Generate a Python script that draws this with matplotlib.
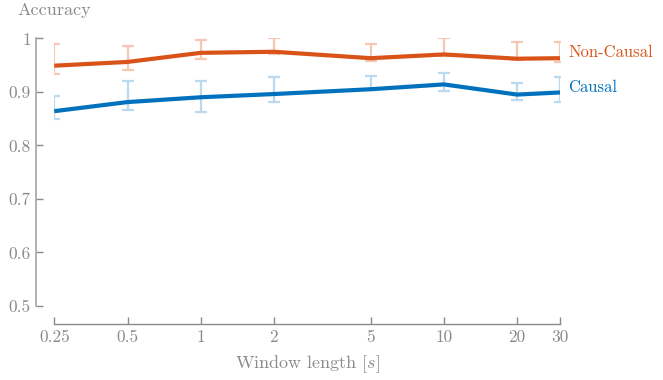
import matplotlib
matplotlib.use("Agg")
import matplotlib.pyplot as plt

# window lengths in seconds and mean accuracy with error-bar extents
WINDOWS = [0.25, 0.5, 1, 2, 5, 10, 20, 30]
TICK_LABELS = ["0.25", "0.5", "1", "2", "5", "10", "20", "30"]

NONCAUSAL = [0.949, 0.956, 0.973, 0.975, 0.963, 0.970, 0.962, 0.963]
NONCAUSAL_HI = [0.989, 0.985, 0.997, 1.001, 0.990, 1.001, 0.993, 0.993]
NONCAUSAL_LO = [0.933, 0.940, 0.961, 0.971, 0.958, 0.968, 0.959, 0.956]

CAUSAL = [0.864, 0.881, 0.890, 0.896, 0.905, 0.914, 0.895, 0.899]
CAUSAL_HI = [0.893, 0.921, 0.920, 0.927, 0.929, 0.935, 0.916, 0.927]
CAUSAL_LO = [0.850, 0.866, 0.863, 0.881, 0.903, 0.902, 0.884, 0.881]

Y_TICKS = [0.5, 0.6, 0.7, 0.8, 0.9, 1.0]
Y_LABELS = ["0.5", "0.6", "0.7", "0.8", "0.9", "1"]

plt.rcParams["font.family"] = ["cmr10", "DejaVu Serif"]
plt.rcParams["mathtext.fontset"] = "cm"
plt.rcParams["axes.formatter.use_mathtext"] = True

GRAY = "#8a8a8a"
ORANGE = "#D95319"
BLUE = "#0072BD"
ORANGE_LT = "#F6C8B3"
BLUE_LT = "#BCDAEF"

fig = plt.figure(figsize=(6.63, 3.80), dpi=100)
ax = fig.add_axes([0.0819, 0.1947, 0.7627, 0.7043])

series = [
    ("Non-Causal", NONCAUSAL, NONCAUSAL_LO, NONCAUSAL_HI, ORANGE, ORANGE_LT, 4),
    ("Causal", CAUSAL, CAUSAL_LO, CAUSAL_HI, BLUE, BLUE_LT, 4),
]
for name, vals, lo, hi, col, col_lt, dy in series:
    err = [[v - l for v, l in zip(vals, lo)], [h - v for v, h in zip(vals, hi)]]
    ax.errorbar(WINDOWS, vals, yerr=err, fmt="none", ecolor=col_lt,
                elinewidth=1.6, capsize=4, capthick=1.6, zorder=2)
    ax.plot(WINDOWS, vals, color=col, lw=3, solid_capstyle="butt", zorder=3)
    ax.annotate(name, (WINDOWS[-1], vals[-1]), xytext=(6, dy),
                textcoords="offset points", color=col, fontsize=12,
                va="center", ha="left", annotation_clip=False)

ax.set_xscale("log")
ax.set_xlim(0.25, 30)
ax.set_ylim(0.5, 1.0)
ax.set_xticks(WINDOWS)
ax.set_xticklabels(TICK_LABELS)
ax.minorticks_off()
ax.set_yticks(Y_TICKS)
ax.set_yticklabels(Y_LABELS)

for side in ("top", "right"):
    ax.spines[side].set_visible(False)
for side in ("left", "bottom"):
    ax.spines[side].set_position(("outward", 13))
    ax.spines[side].set_color(GRAY)
ax.spines["left"].set_linewidth(1.3)
ax.spines["left"].set_color("#aaaaaa")
ax.spines["bottom"].set_linewidth(1.0)

ax.tick_params(axis="both", direction="in", length=5, width=1.0,
               color=GRAY, labelcolor=GRAY, labelsize=12.5, pad=4)

ax.set_xlabel(r"Window length [$s$]", color=GRAY, fontsize=13, labelpad=6)
fig.text(0.027, 0.972, "Accuracy", color=GRAY, fontsize=13,
         ha="left", va="center")

fig.savefig("out.png", dpi=100)
